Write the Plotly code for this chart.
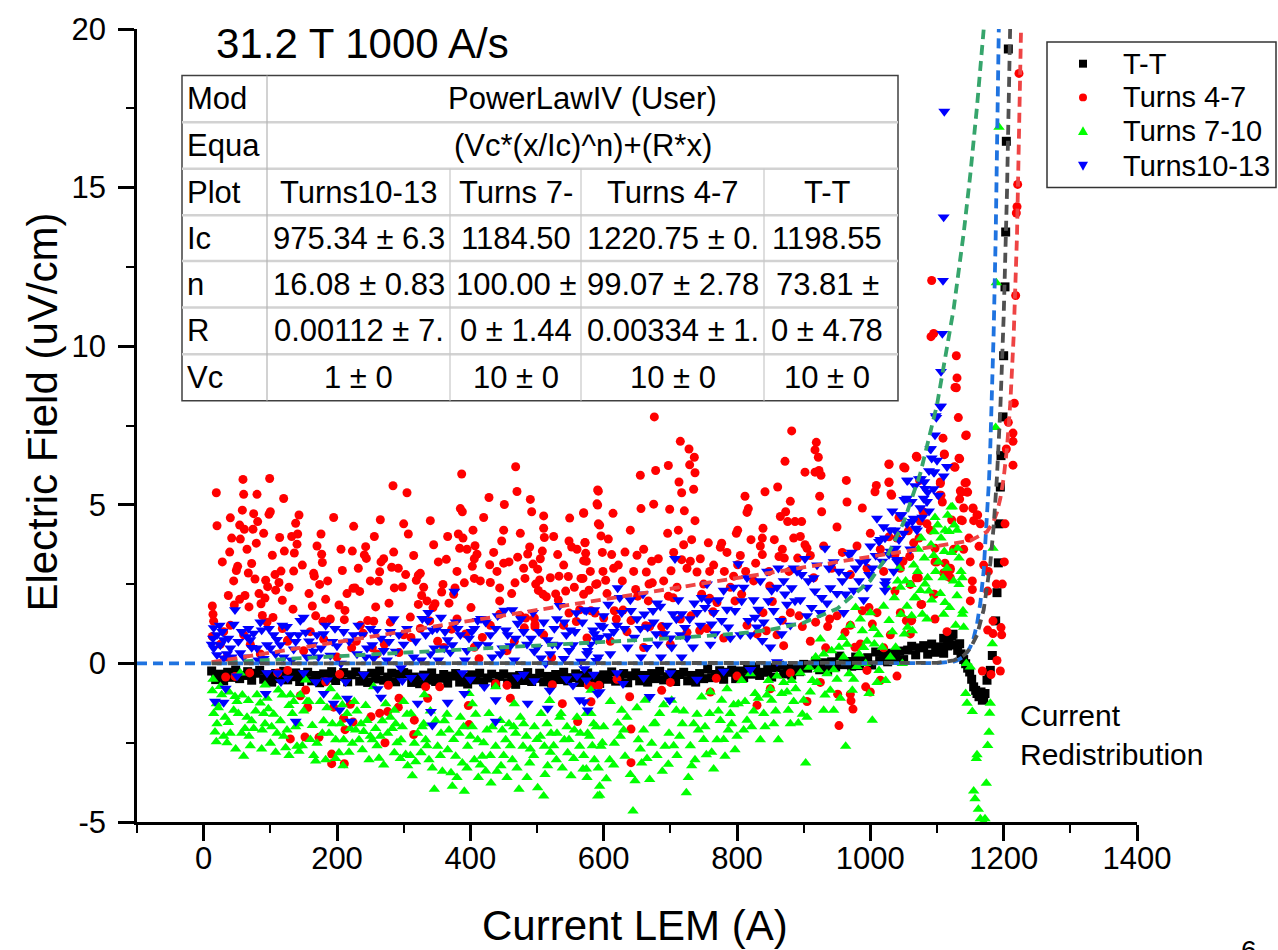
import plotly.graph_objects as go

# ---------------- data ----------------
x_tickvals = [0, 200, 400, 600, 800, 1000, 1200, 1400]
x_ticktext = ["0", "200", "400", "600", "800", "1000", "1200", "1400"]
y_tickvals = [-5, 0, 5, 10, 15, 20]
y_ticktext = ["-5", "0", "5", "10", "15", "20"]

series_names = ["T-T", "Turns 4-7", "Turns 7-10", "Turns10-13"]

# T-T (black squares)
tt_x = [12, 18, 24, 30, 36, 42, 48, 54, 60, 66, 72, 78, 84, 90, 96,
        102, 108, 114, 120, 126, 132, 138, 144, 150, 156, 162, 168, 174, 180, 186, 192, 198, 204, 210, 216,
        222, 228, 234, 240, 246, 252, 258, 264, 270, 276, 282, 288, 294, 300,
        306, 312, 318, 324, 330, 336, 342, 348, 354, 360, 366, 372, 378, 384, 390, 396, 402, 408, 414, 420,
        426, 432, 438, 444, 450, 456, 462, 468, 474, 480, 486, 492, 498,
        504, 510, 516, 522, 528, 534, 540, 546, 552, 558, 564, 570, 576, 582, 588, 594, 600, 606, 612, 618,
        624, 630, 636, 642, 648,
        654, 660, 666, 672, 678, 684, 690, 696, 702, 708, 714, 720, 726, 732, 738, 744, 750,
        756, 762, 768, 774, 780, 786, 792, 798,
        804, 810, 816, 822, 828, 834, 840, 846, 852,
        858, 864, 870, 876, 882, 888, 894, 900,
        906, 912, 918, 924, 930, 936, 942, 948,
        954, 960, 966, 972, 978, 984, 990, 996, 1002,
        1008, 1014, 1020, 1026, 1032, 1038, 1044, 1050,
        1056, 1062, 1068, 1074, 1080, 1086, 1092, 1098,
        1104, 1110, 1116, 1122, 1128,
        1110, 1118, 1124, 1131, 1134, 1136, 1140, 1143, 1146, 1149, 1152, 1155, 1158, 1160, 1163, 1166,
        1168, 1170, 1172, 1175, 1178, 1180, 1183, 1188, 1190, 1192, 1193, 1195, 1196, 1199, 1200, 1202,
        1203, 1204, 1207]
tt_y = [-0.24, -0.51, -0.34, -0.55, -0.28, -0.44, -0.21, -0.48, -0.38, -0.26, -0.53, -0.31, -0.22, -0.50, -0.36,
        -0.59, -0.32, -0.48, -0.25, -0.52, -0.42, -0.30, -0.57, -0.35, -0.28, -0.55, -0.38, -0.61, -0.33, -0.46,
        -0.26, -0.54, -0.41, -0.29, -0.58, -0.36, -0.27, -0.56, -0.39, -0.60, -0.31, -0.49, -0.24, -0.53, -0.43,
        -0.31, -0.58, -0.34, -0.29,
        -0.33, -0.60, -0.43, -0.64, -0.37, -0.53, -0.30, -0.57, -0.47, -0.35, -0.62, -0.40, -0.32, -0.59, -0.44,
        -0.65, -0.36, -0.52, -0.31, -0.58, -0.46, -0.34, -0.63, -0.41, -0.33, -0.61, -0.42, -0.66, -0.38, -0.54,
        -0.29, -0.57, -0.47,
        -0.31, -0.58, -0.41, -0.62, -0.35, -0.51, -0.28, -0.55, -0.45, -0.33, -0.60, -0.38, -0.30, -0.57, -0.42,
        -0.63, -0.36, -0.50, -0.27, -0.56, -0.44, -0.32, -0.61, -0.39, -0.30,
        -0.55, -0.38, -0.59, -0.32, -0.48, -0.25, -0.52, -0.42, -0.30, -0.57, -0.35, -0.28, -0.55, -0.38, -0.59,
        -0.32, -0.48,
        -0.18, -0.45, -0.35, -0.23, -0.50, -0.28, -0.21, -0.48,
        -0.24, -0.45, -0.18, -0.34, -0.11, -0.38, -0.28, -0.16, -0.43,
        -0.13, -0.06, -0.33, -0.16, -0.37, -0.10, -0.26, -0.03,
        -0.15, -0.05, 0.07, -0.20, 0.02, -0.22, 0.05, -0.11,
        0.23, -0.04, 0.06, -0.09, 0.20, -0.07, 0.10, 0.18, -0.05,
        0.36, 0.09, 0.26, 0.05, 0.32, 0.16, 0.39, 0.12,
        0.42, 0.54, 0.27, 0.49, 0.56, 0.29, 0.61, 0.35,
        0.52, 0.79, 0.55, 0.86, 0.58,
        0.32, 0.72, 0.92, 0.41, 0.62, 0.30, 0.12, -0.01, -0.15, -0.27, -0.50, -0.74, -0.85, -0.95, -1.05, -0.90,
        -1.16, -1.10, -0.95, -0.53, -0.32, -0.22, 0.25, 1.34, 2.23, 3.17, 4.40, 5.56, 6.55, 7.77, 9.70, 11.87,
        13.60, 16.46, 19.37]

# Turns 4-7 (red circles): (current, field)
turns47_pts = [
    (19, 5.38), (20, 4.34), (13, 1.81), (14, 1.55), (15, 1.33), (13, 0.85), (40, 4.59), (39, 3.51), (42, 3.95),
    (51, 3.06), (49, 2.93), (37, 2.14), (59, 5.8), (60, 5.33), (58, 4.83), (54, 4.36), (61, 4.23), (55, 3.92),
    (80, 5.33), (75, 4.72), (81, 4.47), (74, 4.23), (79, 3.79), (72, 3.15), (67, 2.85), (77, 2.66), (68, 1.78),
    (54, 2.02), (62, 2.14), (46, 1.84), (99, 5.83), (100, 4.78), (98, 4.7), (120, 5.2), (114, 3.97), (103, 3.41),
    (93, 2.62), (96, 2.42), (116, 2.91), (113, 2.55), (108, 2.31), (86, 1.88), (92, 2.06), (118, 1.99),
    (104, 1.45), (88, 1.51), (143, 4.68), (138, 4.42), (141, 4.08), (140, 3.76), (136, 3.48), (135, 2.91),
    (121, 3.54), (134, 1.71), (126, 0.73), (176, 4.08), (177, 3.44), (178, 3.18), (165, 2.84), (166, 2.75),
    (174, 2.49), (163, 1.81), (168, 1.5), (179, 1.33), (183, 2.02), (206, 3.6), (208, 2.93), (203, 1.84),
    (212, 1.67), (211, 1.38), (223, 3.54), (225, 4.32), (243, 3.68), (241, 3.42), (244, 3.31), (224, 2.37),
    (234, 2.27), (227, 2.38), (265, 4.53), (266, 3.2), (264, 2.89), (262, 2.59), (284, 5.6), (305, 5.38),
    (285, 3.51), (282, 3.03), (307, 4.08), (286, 2.38), (298, 2.41), (303, 2.8), (322, 2.78), (319, 2.62),
    (325, 2.84), (327, 2.14), (310, 1.46), (322, 1.86), (258, 1.78), (255, 1.33), (246, 1.35), (239, 0.95),
    (335, 1.97), (344, 1.76), (347, 1.88), (345, 3.74), (359, 2.49), (364, 3.28), (368, 1.9), (357, 2.25),
    (375, 2.18), (387, 5.97), (385, 4.88), (388, 4.78), (382, 4.08), (389, 3.95), (384, 3.63), (404, 4.2),
    (407, 3.71), (410, 3.44), (406, 3.3), (403, 3.06), (406, 2.68), (391, 2.54), (377, 2.38), (401, 1.76),
    (428, 5.23), (451, 5.01), (450, 4.2), (447, 3.86), (450, 3.16), (429, 3.11), (430, 2.55), (444, 2.38),
    (444, 1.97), (468, 6.2), (470, 5.42), (490, 5.17), (492, 4.78), (489, 3.67), (486, 3.45), (482, 2.68),
    (467, 2.54), (471, 3.35), (494, 3.13), (501, 2.97), (504, 2.63), (510, 4.65), (510, 4.26), (511, 3.97),
    (508, 3.54), (502, 2.3), (509, 2.18), (496, 1.43), (483, 1.43), (497, 1.15), (514, 2.1), (528, 2.19),
    (533, 2.75), (531, 3.43), (549, 4.58), (552, 3.67), (548, 3.86), (547, 2.74), (543, 2.28), (570, 4.75),
    (572, 3.8), (573, 3.47), (570, 3.24), (566, 2.68), (578, 2.31), (591, 5.47), (590, 5.03), (592, 4.4),
    (588, 2.49),
    (33, -0.43), (47, -0.41), (69, -0.3), (126, -0.22), (111, -0.3), (153, -0.84), (145, -1.02), (156, -1.39),
    (152, -2.32), (130, -2.38), (173, -2.33), (192, -2.86), (192, -3.16), (211, -3.16), (210, -1.73),
    (220, -1.29), (212, -2.09), (224, -1.85), (195, -1.38), (183, -0.58), (204, -0.34), (251, -1.68),
    (272, -2.5), (264, -1.57), (277, -0.69), (293, -1.1), (292, -1.38), (276, -1.52), (316, -1.79),
    (315, -2.24), (336, -1.1), (333, -0.74), (354, -0.74), (397, -1.33), (398, -1.93), (438, -0.64),
    (455, -0.69), (460, -1.1), (523, -0.67), (538, -1.27), (561, -1.83), (577, -0.69), (593, -0.69),
    (118, 1.1), (126, 0.7), (180, 0.76), (229, 0.7), (222, 0.49), (253, 0.49), (271, 0.6), (293, 0.34),
    (311, 0.82), (339, 1.34), (351, 0.7), (372, 1.08), (393, 0.93), (406, 0.51), (413, 0.15), (418, 0.82),
    (444, 1.55), (466, 0.7), (481, 1.12), (497, 1.23), (522, 0.18), (532, 2.0), (548, 1.59), (564, 1.69),
    (559, 1.32), (587, 1.59), (25, 0.6), (35, 0.2), (60, 0.9), (85, 0.3), (150, 0.4), (200, 0.2), (30, 1.0),
    (676, 7.77), (882, 7.33), (715, 7.0), (728, 6.76), (736, 6.5), (729, 6.26), (737, 6.01), (697, 6.24),
    (678, 6.08), (655, 5.93), (713, 5.72), (717, 5.38), (735, 5.49), (592, 5.43), (591, 4.99), (656, 4.88),
    (675, 5.02), (699, 4.86), (721, 4.81), (737, 4.5), (614, 4.73), (570, 4.73), (594, 4.36), (572, 3.81),
    (596, 4.02), (607, 3.92), (632, 3.51), (612, 3.43), (650, 3.41), (672, 3.22), (664, 2.88), (599, 2.9),
    (615, 3.0), (574, 3.22), (569, 2.68), (590, 2.51), (603, 2.62), (673, 2.54), (648, 2.33), (701, 2.92),
    (712, 4.2), (696, 4.1), (720, 3.74), (732, 3.9), (717, 3.27), (730, 3.22), (740, 2.88), (757, 3.8),
    (759, 2.9), (775, 3.66), (777, 3.79), (799, 4.1), (801, 4.2), (812, 5.27), (817, 4.88), (815, 4.76),
    (839, 4.26), (821, 3.9), (838, 3.95), (842, 5.41), (861, 5.56), (872, 6.37), (880, 5.11), (873, 4.78),
    (876, 4.47), (865, 4.63), (887, 4.47), (897, 4.47), (885, 3.95), (902, 6.03), (917, 6.03), (919, 6.97),
    (917, 6.73), (922, 6.5), (923, 6.08), (926, 5.93), (924, 5.27), (927, 4.78), (902, 3.74), (905, 3.63),
    (868, 3.6), (863, 3.37), (838, 3.43), (828, 3.16), (813, 2.9), (801, 3.11), (781, 2.9), (795, 2.75),
    (871, 3.32), (891, 3.32), (964, 5.77), (965, 5.09), (988, 4.9), (1009, 5.61), (1007, 5.41), (1028, 6.29),
    (1028, 5.72), (1032, 5.3), (1028, 3.99), (1040, 3.95), (1052, 6.16), (1069, 6.53), (1074, 5.77),
    (1079, 4.78), (1108, 5.09), (1105, 5.72), (1106, 5.3), (1111, 6.58), (1127, 6.18), (1129, 8.69),
    (1132, 7.75), (1143, 7.18), (1134, 6.45), (1136, 5.4), (1146, 5.4), (1144, 5.7), (1154, 4.88),
    (1161, 4.68), (1122, 4.52), (1136, 4.52), (1075, 4.49), (1057, 4.18), (1097, 3.63), (1112, 3.16),
    (1177, 2.9), (1150, 1.97), (1176, 2.28), (1097, 1.4), (1076, 1.86), (1096, 2.18), (1037, 2.28),
    (1049, 3.22), (1037, 3.43), (1060, 2.49), (1072, 2.7), (1120, 2.95), (1120, 2.7), (1061, 1.34),
    (1060, 0.93), (1176, 1.05), (1181, -0.35), (1184, 0.94),
    (570, 2.18), (581, 1.66), (600, 1.43), (616, 1.66), (629, 1.68), (619, 1.4), (641, 1.35), (663, 1.19),
    (669, 1.16), (687, 1.16), (689, 0.93), (704, 2.07), (697, 2.12), (667, 1.97), (651, 2.12), (747, 2.18),
    (759, 2.05), (770, 1.92), (764, 1.63), (725, 0.98), (731, 1.5), (744, 1.03), (797, 1.97), (807, 2.18),
    (849, 2.44), (853, 1.95), (839, 1.6), (844, 1.03), (830, 0.93), (868, 1.36), (870, 0.56), (893, 1.5),
    (898, 1.16), (918, 1.3), (936, 1.16), (933, 0.49), (939, 1.4), (962, 0.98), (977, 0.51), (985, 0.61),
    (988, 1.66), (998, 1.76), (1003, 1.24), (1020, 0.49),
    (639, -1.05), (641, -2.07), (641, -3.13), (583, -0.72), (581, -1.21), (687, -0.85), (769, -0.47),
    (830, -1.32), (953, -1.96), (974, -1.44), (971, -1.18), (970, -0.97), (951, -0.97), (993, -0.74),
    (1015, -0.53), (995, -0.22),
    (1095, 10.4), (1092, 12.07), (1091, 10.3), (1129, 9.7), (1130, 9.0), (1127, 8.7), (1144, 7.2),
    (1109, 7.1), (1223, 18.6), (1221, 15.1), (1220, 14.4), (1219, 14.2), (1218, 11.6), (1216, 8.2),
    (1207, 7.6), (1214, 7.26), (1214, 7.0), (1204, 6.76), (1214, 6.25), (1202, 4.4), (1201, 3.2),
    (1198, 2.5), (1189, 2.5), (1184, 1.34), (1196, 1.13), (1197, 0.9), (1190, 0.09), (1195, -0.24),
    (1168, -0.24), (1115, 1.0), (1111, 6.6), (1133, 6.47), (1126, 6.2), (1028, 6.27), (1050, 6.19),
    (1070, 6.5), (1028, 5.7), (1105, 5.67), (1142, 5.69), (1135, 5.44), (1145, 5.4), (1104, 5.3),
    (1134, 5.18), (1031, 5.34), (1154, 4.9), (1080, 4.76), (1160, 4.68), (1138, 4.5), (1155, 4.5),
    (1085, 4.4), (1043, 4.6), (1073, 3.95), (1148, 3.95), (1163, 3.69), (1140, 3.6), (1059, 3.37),
    (1097, 3.2), (1120, 3.0), (1115, 2.75), (1069, 2.7), (1110, 2.85), (1153, 2.33), (1095, 2.18),
    (1077, 1.86), (1062, 1.36), (1054, 1.35), (1153, 2.6),
    (28, 3.2), (45, 2.6), (65, 3.6), (83, 2.2), (90, 4.1), (107, 2.8), (128, 2.4), (132, 4.0), (148, 3.1),
    (158, 2.2), (170, 3.7), (186, 2.6), (195, 4.6), (215, 2.2), (232, 3.0), (250, 2.6), (256, 4.0), (270, 3.3),
    (278, 1.9), (292, 3.0), (300, 4.4), (315, 3.4), (330, 2.4), (340, 4.5), (352, 3.2), (366, 4.0), (380, 2.9),
    (395, 3.6), (415, 2.6), (420, 4.6), (435, 3.5), (440, 2.9), (458, 3.2), (462, 2.2), (475, 4.1), (480, 3.0),
    (498, 2.5), (505, 3.3), (520, 2.7), (525, 4.0), (540, 3.1), (556, 2.4), (560, 3.6), (580, 2.9), (598, 3.5),
    (605, 2.2), (622, 3.1), (628, 2.6), (640, 4.2), (645, 2.9), (660, 3.6), (668, 2.5), (682, 3.3), (690, 2.6),
    (705, 3.5), (710, 2.4), (725, 3.0), (745, 3.3), (750, 2.5), (765, 3.1), (785, 3.5), (790, 2.4), (805, 3.4),
    (825, 2.6), (835, 3.7), (848, 2.9), (856, 3.9), (878, 2.9), (895, 4.0), (910, 3.4), (915, 2.7), (930, 3.7),
    (942, 3.0), (950, 4.3), (958, 3.5), (970, 2.8), (980, 3.7), (995, 3.0), (1000, 4.1), (1015, 3.6),
    (1020, 2.9), (1045, 3.0), (1065, 3.8), (1090, 4.2), (1100, 3.2), (1125, 3.6), (1140, 4.9), (1150, 3.2),
    (1165, 4.4), (1170, 3.1),
    (620, -0.5), (700, -0.6), (760, -0.9), (800, -0.4), (850, -0.8), (880, -0.3), (905, -1.2), (925, -0.6),
    (1000, -0.9), (1040, -0.4),
    (40, 1.2), (70, 0.6), (95, 1.3), (160, 1.0), (190, 1.4), (235, 1.2), (260, 0.3), (280, 1.3), (300, 0.9),
    (325, 1.1), (360, 0.5), (380, 1.4), (430, 1.2), (455, 0.4), (475, 1.5), (510, 0.9), (540, 1.2), (575, 0.8),
    (610, 0.7), (635, 1.0), (660, 0.5), (700, 0.6), (715, 1.4), (755, 1.1), (780, 0.8), (815, 1.2), (860, 0.9),
    (880, 1.6), (910, 0.7), (950, 1.5), (970, 1.2), (1010, 1.6), (1030, 0.9), (1045, 1.6),
]

# Turns 7-10 (green up-triangles)
turns710_pts = [
    (13, -0.86), (19, -1.27), (15, -1.58), (17, -2.16), (19, -2.47), (25, -0.73), (27, -0.99), (32, -1.7),
    (37, -1.86), (40, -2.2), (45, -1.48), (47, -1.04), (52, -1.58), (55, -0.3), (60, -2.93), (57, -2.2),
    (62, -2.05), (65, -1.7), (67, -1.17), (72, -1.81), (75, -2.05), (80, -0.99), (85, -1.25), (87, -2.7),
    (92, -0.68), (92, -1.9), (97, -1.43), (102, -2.0), (100, -2.52), (110, -2.2), (112, -0.84), (115, -1.81),
    (120, -2.3), (123, -2.66), (128, -1.33), (133, -1.58), (138, -2.0), (140, -2.61), (143, -2.77),
    (145, -0.99), (153, -0.52), (155, -1.2), (163, -1.96), (168, -3.08), (170, -2.52), (175, -1.2),
    (180, -1.81), (183, -3.04), (188, -2.2), (193, -1.9), (198, -2.41), (203, -2.82), (209, -3.23),
    (210, -2.41), (215, -1.58), (220, -2.05), (223, -2.52), (228, -2.1), (233, -2.41), (238, -2.72),
    (240, -2.15), (248, -3.04), (253, -2.41), (255, -0.74), (258, -2.05), (263, -2.99), (268, -1.81),
    (273, -1.27), (276, -2.2), (283, -2.05), (286, -2.82), (296, -2.41), (298, -2.0), (303, -2.87),
    (306, -3.23), (313, -3.54), (316, -2.52), (321, -2.2), (326, -2.82), (331, -0.99), (333, -2.41),
    (338, -3.04), (343, -3.3), (346, -3.97), (351, -2.61), (356, -2.2), (361, -1.81), (366, -2.72),
    (371, -3.45), (373, -3.87), (378, -2.93), (383, -2.2), (388, -3.14), (391, -4.03), (396, -2.61),
    (403, -2.0), (406, -3.04), (411, -2.41), (418, -2.93), (423, -3.39), (431, -3.77), (433, -2.0),
    (438, -2.61), (446, -3.23), (453, -2.41), (458, -1.9), (463, -3.04), (468, -2.2), (473, -3.97),
    (479, -2.61), (484, -2.3), (489, -3.14), (496, -2.0), (501, -3.92), (506, -1.58), (510, -4.18),
    (511, -2.61), (516, -3.23), (521, -2.2), (529, -3.04), (534, -1.7), (541, -2.41), (546, -2.82),
    (551, -3.54), (556, -2.1), (564, -2.61), (569, -3.33), (574, -1.58), (579, -2.3), (586, -3.04),
    (591, -4.18), (594, -3.87), (428, -1.58), (403, -1.27), (398, -0.95), (438, -0.74), (466, -1.27),
    (519, -1.17), (536, -1.58), (581, -0.85), (311, -1.58), (286, -1.48), (243, -1.33), (200, -1.06),
    (130, -0.99), (90, -1.58),
    (20, -1.9), (35, -2.5), (50, -1.2), (70, -2.6), (105, -1.6), (125, -2.1), (135, -1.2), (150, -1.5),
    (160, -2.4), (185, -1.4), (205, -1.9), (230, -1.5), (245, -1.8), (260, -2.6), (280, -1.7), (290, -2.5),
    (300, -1.2), (310, -2.9), (330, -1.9), (340, -1.5), (355, -2.9), (365, -1.6), (375, -2.4), (385, -1.7),
    (400, -2.3), (415, -3.2), (425, -2.1), (445, -1.8), (450, -2.9), (460, -2.6), (475, -1.7), (490, -2.7),
    (500, -2.4), (515, -1.9), (525, -2.6), (545, -2.0), (560, -1.7), (570, -2.9), (585, -1.9), (598, -2.5),
    (581, -1.58), (589, -2.0), (576, -2.2), (596, -2.61), (574, -3.33), (604, -3.64), (594, -4.16),
    (609, -3.04), (616, -2.52), (621, -1.88), (627, -1.48), (632, -2.93), (644, -4.65), (647, -3.7),
    (652, -2.41), (657, -3.14), (662, -1.16), (669, -3.66), (672, -2.52), (677, -1.88), (684, -1.58),
    (692, -2.61), (697, -3.18), (702, -1.16), (709, -1.48), (714, -2.3), (724, -4.08), (727, -3.6),
    (732, -3.23), (737, -3.04), (742, -2.1), (747, -1.06), (754, -2.88), (759, -1.58), (765, -3.33),
    (770, -2.41), (777, -1.16), (782, -2.93), (787, -2.1), (790, -1.58), (797, -2.72), (802, -1.27),
    (807, -0.54), (815, -1.79), (820, -0.33), (827, -0.95), (835, -2.41), (840, -1.58), (847, -0.54),
    (852, -1.16), (862, -2.41), (867, -0.95), (877, -1.48), (882, -0.54), (892, -1.88), (900, -1.16),
    (903, -3.14), (908, -0.12), (913, -0.54), (918, 0.2), (925, 0.77), (930, -1.48), (935, -0.33),
    (940, -0.85), (945, -1.48), (953, 0.51), (958, 0.82), (963, -2.61), (968, -0.33), (973, -0.85),
    (978, 1.76), (983, 0.3), (988, 1.03), (993, 0.0), (998, -0.95), (1003, -1.79), (1006, 0.61),
    (1013, -0.22), (1018, 0.51), (1023, -0.54), (1028, 1.35), (1036, 2.07), (1041, 2.6), (1046, 1.55),
    (1051, 0.93), (1056, 1.14), (1061, 2.49), (1066, 2.07), (1071, 2.9), (1076, 3.95), (1081, 3.32),
    (1086, 2.7), (1091, 3.74), (1096, 4.15), (1101, 4.36), (1106, 3.95), (1111, 3.53), (1116, 4.67),
    (1121, 4.93), (1126, 4.36), (1131, 3.63), (1136, 2.9), (1139, 1.66), (1098, 2.9), (1109, 2.7),
    (1119, 1.76), (1078, 1.55), (1063, 1.03), (1038, 0.51), (1048, 0.0), (1068, 2.07), (1088, 2.28),
    (1144, 0.0),
    (610, -1.2), (625, -2.3), (635, -1.7), (650, -1.4), (660, -2.1), (680, -2.9), (690, -1.3), (705, -2.6),
    (720, -1.5), (735, -1.9), (750, -2.4), (760, -0.9), (775, -1.8), (785, -0.8), (795, -1.3), (810, -2.1),
    (825, -1.5), (845, -1.0), (855, -1.9), (860, -0.4), (875, -0.9), (885, -1.2), (895, -0.3), (905, -1.7),
    (920, -0.6), (930, 0.3), (945, -0.2), (955, -1.1), (965, 0.6), (975, -0.5), (985, 1.4), (995, 0.7),
    (1005, 1.1), (1010, -0.6), (1020, 1.8), (1030, 0.2), (1045, 2.4), (1055, 1.8), (1065, 3.1), (1075, 2.3),
    (1085, 1.4), (1095, 3.4), (1105, 2.2), (1115, 3.0), (1125, 2.6), (1130, 4.2),
    (1097, 4.6), (1123, 4.94), (1118, 4.16), (1133, 3.32), (1138, 2.7), (1133, 2.49), (1110, 1.55),
    (1138, 1.55), (1140, 1.14), (1130, 2.13), (1112, 1.92),
    (1193, 16.9), (1189, 12.0), (1188, 7.44), (1184, 3.63), (1183, 0.62), (1150, -0.11), (1143, -0.95),
    (1145, -1.26), (1153, -1.52), (1180, -1.26), (1179, -1.57), (1178, -2.17), (1176, -2.59), (1160, -2.88),
    (1159, -3.0), (1174, -3.78), (1155, -4.02), (1157, -4.27), (1162, -4.6), (1165, -4.9), (1170, -5.0),
    (1172, -4.9),
    (14, -0.5), (22, -1.4), (30, -2.3), (38, -0.9), (48, -2.7), (58, -1.0), (68, -2.3), (78, -1.5), (88, -2.1),
    (95, -1.1), (108, -2.8), (118, -1.0), (128, -2.9), (142, -1.9), (148, -2.6), (158, -1.2), (165, -2.9),
    (178, -2.2), (190, -0.8), (198, -3.0), (208, -1.3), (218, -2.8), (226, -1.2), (236, -1.9), (250, -2.3),
    (265, -2.3), (270, -3.2), (288, -1.9), (295, -3.0), (305, -1.6), (318, -3.1), (328, -2.0), (335, -2.6),
    (348, -1.8), (358, -3.4), (368, -2.1), (380, -3.6), (390, -2.0), (395, -3.3), (408, -1.6), (412, -3.6),
    (420, -2.5), (430, -2.9), (440, -3.4), (448, -2.1), (455, -3.6), (465, -2.0), (470, -3.3), (480, -1.9),
    (485, -3.6), (495, -2.9), (505, -2.3), (512, -3.5), (520, -2.8), (530, -2.2), (538, -3.3), (548, -2.4),
    (555, -3.0), (565, -2.2), (575, -3.6), (583, -2.6), (592, -3.3), (600, -2.0), (615, -3.2), (630, -2.1),
    (640, -3.5), (655, -2.7), (665, -3.0), (675, -1.9), (688, -3.4), (698, -2.2), (710, -2.9), (718, -1.9),
    (730, -2.6), (740, -1.6), (752, -2.0), (762, -2.8), (772, -1.5), (780, -2.4), (792, -1.9), (800, -2.3),
    (812, -1.2), (822, -2.0), (832, -1.1), (842, -2.0), (850, -0.8), (858, -1.5), (870, -0.6), (880, -1.9),
    (888, -0.8), (898, -1.6), (910, -0.9), (922, -0.2), (932, -1.0), (942, 0.4), (950, -0.5), (960, 0.2),
    (970, 1.2), (980, -0.1), (990, 0.5), (1000, 1.6), (1012, 0.9), (1025, 2.4), (1033, 1.0), (1043, 3.0),
    (1053, 2.6), (1062, 1.5), (1072, 3.6), (1082, 2.5), (1092, 2.0), (1102, 3.2), (1112, 4.2), (1122, 3.5),
    (1128, 1.2),
]

# Turns10-13 (blue down-triangles)
turns1013_pts = [
    (47, 1.69), (15, 1.12), (24, 1.2), (45, 1.23), (14, 0.79), (30, 0.74), (37, 0.79), (15, 0.48), (25, 0.58),
    (40, 0.48), (52, 0.69), (65, 0.84), (70, 0.74), (85, 1.3), (87, 1.05), (95, 0.58), (80, 0.48), (67, 1.1),
    (55, 0.33), (30, 0.17), (20, 0.27), (105, 0.9), (100, 0.48), (125, 1.16), (130, 0.9), (115, 0.58),
    (138, 0.69), (145, 1.35), (150, 1.45), (153, 0.98), (163, 0.58), (165, 0.38), (180, 0.93), (193, 0.69),
    (176, 0.48), (111, -0.3), (126, -0.47), (116, -0.58), (95, -0.3), (93, -0.95), (33, -0.79), (17, -1.2),
    (30, -1.23), (138, -1.83), (168, -0.58), (185, -0.53), (180, -0.95), (195, -1.26), (204, -1.47),
    (215, -1.1), (220, -1.83), (213, -0.58), (225, 0.9), (238, 0.9), (245, 0.48), (253, 0.58), (266, 0.79),
    (255, 0.17), (266, -1.07), (261, -0.8), (278, 0.69), (288, 0.38), (296, -0.14), (311, -0.45),
    (298, -0.55), (321, -1.26), (328, 1.41), (336, 1.35), (356, 1.45), (343, 1.05), (333, 0.9), (366, 0.74),
    (376, 2.27), (381, 1.1), (373, 0.58), (361, 0.48), (346, 0.48), (341, -1.52), (343, -1.95), (366, -1.23),
    (391, -0.95), (388, -0.3), (398, 0.79), (411, 1.35), (416, 1.41), (406, 1.1), (426, 0.58), (438, 1.1),
    (451, 1.67), (463, 1.69), (453, 1.05), (471, 1.26), (468, 0.79), (448, 0.48), (438, -1.15), (438, -1.83),
    (421, -0.74), (486, -1.26), (519, -0.85), (516, -1.42), (491, 0.79), (496, 0.38), (516, 0.74),
    (506, 0.17), (526, 1.1), (534, 1.82), (541, 1.3), (544, 0.9), (531, 0.58), (554, 0.58), (566, 0.06),
    (559, 1.59), (571, 1.69), (586, 1.69), (584, 1.05), (589, 0.74), (564, -1.15), (576, -1.47), (591, -0.95),
    (554, -0.69), (544, -0.49), (471, -0.43), (496, -0.55),
    (20, 0.9), (35, 0.3), (60, 0.2), (75, 0.95), (90, 0.15), (110, 0.75), (120, 0.2), (135, 0.45), (155, 0.2),
    (170, 0.9), (190, 0.25), (200, 0.55), (210, 1.0), (230, 0.3), (250, 1.1), (270, 0.4), (280, 1.0),
    (300, 0.6), (315, 0.2), (340, 0.3), (350, 1.1), (370, 0.35), (385, 0.9), (395, 0.4), (430, 0.9),
    (445, 0.3), (460, 0.55), (480, 1.0), (500, 0.5), (510, 1.3), (520, 0.3), (540, 0.15), (550, 1.05),
    (575, 0.3), (595, 1.2), (50, -0.4), (150, -0.3), (240, -0.35), (330, -0.4), (400, -0.5), (480, -0.35),
    (560, -0.4),
    (574, 1.66), (584, 1.66), (586, 0.93), (599, 1.15), (594, 0.82), (607, 0.87), (576, 0.4), (589, 0.09),
    (571, -0.17), (574, -0.53), (594, -0.9), (571, -1.21), (621, 2.38), (624, 2.07), (607, 1.86), (641, 1.66),
    (631, 1.1), (636, 0.51), (646, 0.82), (659, 2.18), (661, 1.55), (674, 1.66), (666, 1.14), (679, 0.93),
    (681, 0.61), (691, 0.93), (686, 0.2), (656, 0.2), (629, -0.64), (669, -1.05), (699, -1.16), (709, 1.4),
    (717, 1.56), (729, 1.4), (722, 1.13), (704, 1.56), (702, 0.51), (717, 0.2), (707, 3.3), (734, 0.51),
    (747, 2.07), (757, 1.97), (752, 1.76), (762, 1.24), (767, 0.93), (777, 1.35), (787, 1.14), (797, 1.66),
    (802, 3.14), (807, 1.97), (817, 1.35), (827, 1.45), (830, 1.14), (840, 1.3), (847, 1.97), (855, 1.66),
    (865, 1.35), (867, 0.93), (850, 0.51), (838, 0.72), (872, 2.18), (882, 2.38), (875, 1.86), (887, 1.97),
    (897, 2.8), (907, 2.6), (917, 2.28), (912, 1.76), (927, 2.07), (940, 2.38), (953, 2.9), (958, 2.6),
    (968, 3.43), (963, 2.18), (978, 3.0), (983, 2.6), (993, 3.22), (1003, 3.0), (998, 2.8), (1010, 4.57),
    (1013, 3.84), (1018, 3.22), (1023, 2.6), (1028, 3.43), (1038, 3.63), (1040, 3.22), (1045, 4.68),
    (1051, 5.16), (1056, 5.77), (1063, 4.47), (1068, 4.26), (1073, 5.82), (1081, 5.72), (1086, 5.4),
    (1088, 6.07), (1096, 6.03), (1091, 6.76), (1098, 7.8), (1106, 8.1), (932, 3.63),
    (610, 0.3), (620, 1.2), (650, 1.4), (680, 1.9), (700, 0.8), (715, 0.9), (740, 1.6), (760, 0.6),
    (780, 2.3), (790, 0.8), (810, 2.4), (820, 0.9), (835, 2.6), (860, 2.4), (880, 1.2), (890, 2.9),
    (905, 1.5), (920, 3.1), (935, 1.9), (945, 3.2), (960, 1.6), (975, 2.3), (990, 2.0), (1000, 3.7),
    (1015, 3.9), (1030, 4.2), (1035, 2.9), (1055, 4.4), (1060, 3.6), (1075, 4.9), (1085, 5.1), (1095, 5.5),
    (1100, 6.4), (1110, 5.9), (1115, 6.2),
    (585, -0.35), (620, -0.3), (660, -0.45), (700, -0.3), (740, -0.5), (780, -0.25), (820, -0.2), (860, 0.05),
    (1097, 7.2), (1090, 6.76), (1092, 6.47), (1095, 6.03), (1055, 5.77), (1076, 5.82), (1082, 5.51),
    (1067, 5.6), (1055, 5.2), (1080, 5.2), (1047, 4.68), (1065, 4.57), (1070, 4.2), (1037, 4.2), (1022, 3.95),
    (1030, 3.53), (1040, 3.27), (1022, 2.49), (1022, 2.3),
    (1111, 17.4), (1110, 14.07), (1109, 12.07), (1108, 10.4), (1106, 9.2), (1105, 8.1), (1099, 7.75),
    (12, 0.6), (28, 1.0), (42, 0.2), (57, 1.0), (72, 0.5), (82, 0.1), (98, 1.1), (108, 0.3), (118, 1.2),
    (132, 0.1), (142, 0.9), (158, 0.7), (172, 0.2), (183, 1.2), (197, 1.1), (206, 0.0), (218, 0.7), (232, 1.2),
    (243, 0.2), (258, 1.0), (275, 0.1), (285, 1.4), (293, 0.9), (305, 1.1), (318, 0.7), (326, 0.1), (337, 1.6),
    (352, 0.1), (362, 1.0), (378, 1.3), (392, 0.1), (402, 1.0), (412, 0.6), (423, 1.3), (433, 0.2), (441, 1.5),
    (456, 0.9), (466, 0.1), (476, 1.4), (485, 0.6), (494, 1.6), (503, 1.0), (513, 0.0), (523, 0.6), (530, 1.4),
    (548, 0.4), (557, 1.0), (568, 1.3), (580, 0.6), (592, 0.2), (600, 1.5), (615, 1.0), (627, 1.6), (640, 2.0),
    (655, 1.1), (665, 0.5), (675, 1.3), (685, 1.8), (695, 1.2), (712, 2.0), (725, 0.8), (736, 1.9), (745, 1.2),
    (755, 2.5), (765, 1.6), (772, 2.0), (785, 1.7), (795, 2.4), (805, 0.9), (815, 2.7), (825, 2.0), (832, 1.7),
    (845, 2.9), (852, 2.3), (862, 3.0), (870, 2.6), (885, 3.0), (895, 2.0), (902, 3.3), (915, 2.7), (925, 1.6),
    (938, 3.0), (950, 2.2), (965, 2.8), (972, 3.5), (985, 3.2), (995, 2.4), (1008, 3.4), (1020, 4.3),
    (1033, 4.8), (1043, 3.9), (1050, 4.1), (1062, 5.1), (1078, 4.6), (1088, 4.8), (1102, 5.3),
]

# Fitted curves, points
fit1013_x = [12, 100, 200, 300, 400, 500, 600, 700, 800, 850, 900, 950, 1000, 1025, 1050, 1075, 1100, 1112,
             1125, 1140, 1150, 1160, 1170]
fit1013_y = [0.013, 0.112, 0.224, 0.336, 0.448, 0.56, 0.672, 0.789, 0.937, 1.062, 1.28, 1.72, 2.61, 3.37,
             4.45, 5.99, 8.15, 9.6, 11.18, 13.56, 15.42, 17.55, 19.98]
fit710_x = [-100, 1050, 1100, 1125, 1130, 1140, 1145, 1150, 1155, 1160, 1165, 1170, 1175, 1178, 1180, 1183,
            1185, 1188, 1190, 1191.5, 1193.2]
fit710_y = [0.0, 0.0, 0.006, 0.058, 0.09, 0.217, 0.337, 0.52, 0.80, 1.238, 1.90, 2.92, 4.48, 5.77, 6.85,
            8.81, 10.43, 13.43, 15.89, 18.02, 20.7]
fit47_x = [12, 200, 400, 600, 800, 1000, 1100, 1150, 1175, 1180, 1185, 1190, 1195, 1200, 1205, 1210, 1215,
           1220, 1223, 1226, 1228]
fit47_y = [0.04, 0.668, 1.336, 2.004, 2.672, 3.34, 3.677, 3.868, 4.15, 4.29, 4.48, 4.77, 5.20, 5.84, 6.79,
           8.21, 10.32, 13.49, 16.09, 19.39, 22.08]
fittt_x = [12, 1050, 1100, 1125, 1140, 1150, 1160, 1170, 1180, 1185, 1190, 1195, 1200, 1205, 1209, 1211]
fittt_y = [0.0, 0.0006, 0.018, 0.093, 0.248, 0.473, 0.896, 1.69, 3.16, 4.32, 5.90, 8.03, 10.93, 14.86,
           18.98, 21.44]

# Fit table contents
table_rows = [
    ["Mod", "PowerLawIV (User)"],
    ["Equa", "(Vc*(x/Ic)^n)+(R*x)"],
    ["Plot", "Turns10-13", "Turns 7-", "Turns 4-7", "T-T"],
    ["Ic", "975.34 ± 6.3", "1184.50", "1220.75 ± 0.", "1198.55"],
    ["n", "16.08 ± 0.83", "100.00 ±", "99.07 ± 2.78", "73.81 ±"],
    ["R", "0.00112 ± 7.", "0 ± 1.44", "0.00334 ± 1.", "0 ± 4.78"],
    ["Vc", "1 ± 0", "10 ± 0", "10 ± 0", "10 ± 0"],
]

# ---------------- figure ----------------
W, H = 1278, 950
ML, MR, MT, MB = 137, 141, 22, 128
PW, PH = W - ML - MR, H - MT - MB
FONT = "Arial, Liberation Sans, Helvetica, sans-serif"


def fx(p):
    return (p - ML) / PW


def fy(p):
    return (H - MB - p) / PH


fig = go.Figure()

fig.add_trace(go.Scatter(x=tt_x, y=tt_y, mode="markers", name=series_names[0],
                         marker=dict(symbol="square", size=9, color="#000000", line=dict(width=0))))
fig.add_trace(go.Scatter(x=[p[0] for p in turns47_pts], y=[p[1] for p in turns47_pts], mode="markers",
                         name=series_names[1],
                         marker=dict(symbol="circle", size=9, color="#ff0000", line=dict(width=0))))
fig.add_trace(go.Scatter(x=[p[0] for p in turns710_pts], y=[p[1] for p in turns710_pts], mode="markers",
                         name=series_names[2],
                         marker=dict(symbol="triangle-up", size=10, color="#00ff00", line=dict(width=0))))
fig.add_trace(go.Scatter(x=[p[0] for p in turns1013_pts], y=[p[1] for p in turns1013_pts], mode="markers",
                         name=series_names[3],
                         marker=dict(symbol="triangle-down", size=10.5, color="#0000ff", line=dict(width=0))))

DASH = "10px,6px"
for fxs, fys, col in [(fit1013_x, fit1013_y, "#36a56c"),
                      (fit710_x, fit710_y, "#1f73e0"),
                      (fit47_x, fit47_y, "#ee4444"),
                      (fittt_x, fittt_y, "#505050")]:
    fig.add_trace(go.Scatter(x=fxs, y=fys, mode="lines", showlegend=False, hoverinfo="skip",
                             line=dict(color=col, width=3.8, dash=DASH)))

axis_common = dict(showline=True, linecolor="black", linewidth=2.5, ticks="outside", ticklen=16,
                   tickwidth=2.5, tickcolor="black", showgrid=False, zeroline=False,
                   tickfont=dict(family=FONT, size=31, color="black"))
fig.update_xaxes(range=[-100, 1400], tickmode="array", tickvals=x_tickvals, ticktext=x_ticktext,
                 minor=dict(dtick=100, tick0=0, ticks="outside", ticklen=8, tickwidth=2, tickcolor="black",
                            showgrid=False),
                 ticklabelstandoff=-9, **axis_common)
fig.update_yaxes(range=[-5, 20], tickmode="array", tickvals=y_tickvals, ticktext=y_ticktext,
                 minor=dict(dtick=2.5, tick0=0, ticks="outside", ticklen=8, tickwidth=2, tickcolor="black",
                            showgrid=False),
                 ticklabelstandoff=6, **axis_common)

shapes = []
annotations = []

# table geometry (pixels)
tx0, tx1 = 182, 898
row_edges = [69, 116, 163, 210, 256, 303, 350, 397]
col_edges = [182, 267, 450, 581, 764, 898]
shapes.append(dict(type="rect", xref="paper", yref="paper", x0=fx(tx0), x1=fx(tx1), y0=fy(row_edges[0]),
                   y1=fy(row_edges[-1]), fillcolor="white", line=dict(color="#404040", width=1.5), layer="above"))
for ry in row_edges[1:-1]:
    shapes.append(dict(type="line", xref="paper", yref="paper", x0=fx(tx0), x1=fx(tx1), y0=fy(ry), y1=fy(ry),
                       line=dict(color="#d2d2d2", width=2.5), layer="above"))
shapes.append(dict(type="line", xref="paper", yref="paper", x0=fx(col_edges[1]), x1=fx(col_edges[1]),
                   y0=fy(row_edges[0]), y1=fy(row_edges[-1]), line=dict(color="#b4b4b4", width=1.2),
                   layer="above"))
for cx in col_edges[2:-1]:
    shapes.append(dict(type="line", xref="paper", yref="paper", x0=fx(cx), x1=fx(cx),
                       y0=fy(row_edges[2]), y1=fy(row_edges[-1]), line=dict(color="#c8c8c8", width=1.2),
                       layer="above"))

TFS = 31
for r, row in enumerate(table_rows):
    yc = (row_edges[r] + row_edges[r + 1]) / 2
    annotations.append(dict(text=row[0], x=fx(col_edges[0] + 3), y=fy(yc), xref="paper", yref="paper",
                            xanchor="left", yanchor="middle", showarrow=False,
                            font=dict(family=FONT, size=TFS, color="black")))
    if len(row) == 2:
        annotations.append(dict(text=row[1], x=fx((col_edges[1] + col_edges[-1]) / 2), y=fy(yc),
                                xref="paper", yref="paper", xanchor="center", yanchor="middle",
                                showarrow=False, font=dict(family=FONT, size=TFS, color="black")))
    else:
        for c in range(1, 5):
            xc = (col_edges[c] + col_edges[c + 1]) / 2
            if c == 4:
                xc -= 4
            annotations.append(dict(text=row[c], x=fx(xc), y=fy(yc), xref="paper", yref="paper",
                                    xanchor="center", yanchor="middle", showarrow=False,
                                    font=dict(family=FONT, size=TFS, color="black")))

# legend box drawn by hand (to match the reference's compact spacing)
lg_x0, lg_x1, lg_y0, lg_y1 = 1047, 1276, 35, 182
lg_rows = [57, 91, 125, 160]
sym_x = 1083
shapes.append(dict(type="rect", xref="paper", yref="paper", x0=fx(lg_x0), x1=fx(lg_x1), y0=fy(lg_y0),
                   y1=fy(lg_y1), fillcolor="white", line=dict(color="#333333", width=1.5), layer="above"))
shapes.append(dict(type="rect", xref="paper", yref="paper", x0=fx(sym_x - 4), x1=fx(sym_x + 4),
                   y0=fy(lg_rows[0] - 4), y1=fy(lg_rows[0] + 4), fillcolor="#000000", line=dict(width=0),
                   layer="above"))
shapes.append(dict(type="circle", xref="paper", yref="paper", x0=fx(sym_x - 4), x1=fx(sym_x + 4),
                   y0=fy(lg_rows[1] - 4), y1=fy(lg_rows[1] + 4), fillcolor="#ff0000", line=dict(width=0),
                   layer="above"))
shapes.append(dict(type="path", xref="paper", yref="paper",
                   path="M {:.5f},{:.5f} L {:.5f},{:.5f} L {:.5f},{:.5f} Z".format(
                       fx(sym_x - 5), fy(lg_rows[2] + 4), fx(sym_x + 5), fy(lg_rows[2] + 4),
                       fx(sym_x), fy(lg_rows[2] - 5)),
                   fillcolor="#00ff00", line=dict(width=0), layer="above"))
shapes.append(dict(type="path", xref="paper", yref="paper",
                   path="M {:.5f},{:.5f} L {:.5f},{:.5f} L {:.5f},{:.5f} Z".format(
                       fx(sym_x - 5), fy(lg_rows[3] - 4), fx(sym_x + 5), fy(lg_rows[3] - 4),
                       fx(sym_x), fy(lg_rows[3] + 5)),
                   fillcolor="#0000ff", line=dict(width=0), layer="above"))
for name, ry in zip(series_names, lg_rows):
    annotations.append(dict(text=name, x=fx(1121), y=fy(ry), xref="paper", yref="paper", xanchor="left",
                            yanchor="middle", showarrow=False, font=dict(family=FONT, size=29, color="black")))

annotations += [
    dict(text="31.2 T 1000 A/s", x=fx(214), y=fy(37), xref="paper", yref="paper", xanchor="left",
         yanchor="middle", showarrow=False, font=dict(family=FONT, size=42, color="black")),
    dict(text="Current LEM (A)", x=fx(635), y=fy(926), xref="paper", yref="paper", xanchor="center",
         yanchor="middle", showarrow=False, font=dict(family=FONT, size=42, color="black")),
    dict(text="Electric Field (uV/cm)", x=fx(43), y=fy(409), xref="paper", yref="paper", xanchor="center",
         yanchor="middle", textangle=-90, showarrow=False, font=dict(family=FONT, size=42, color="black")),
    dict(text="Current<br>Redistribution", x=fx(1018), y=fy(696), xref="paper", yref="paper",
         xanchor="left", yanchor="top", align="left", showarrow=False,
         font=dict(family=FONT, size=30, color="black")),
    dict(text="6", x=fx(1249), y=fy(934), xref="paper", yref="paper", xanchor="center", yanchor="top",
         showarrow=False, font=dict(family=FONT, size=28, color="black")),
]

fig.update_layout(
    width=W, height=H,
    margin=dict(l=ML, r=MR, t=MT, b=MB, pad=0),
    paper_bgcolor="white", plot_bgcolor="white",
    font=dict(family=FONT, color="black"),
    showlegend=False,
    shapes=shapes, annotations=annotations,
    hovermode=False,
)

fig.write_html("out.html")
